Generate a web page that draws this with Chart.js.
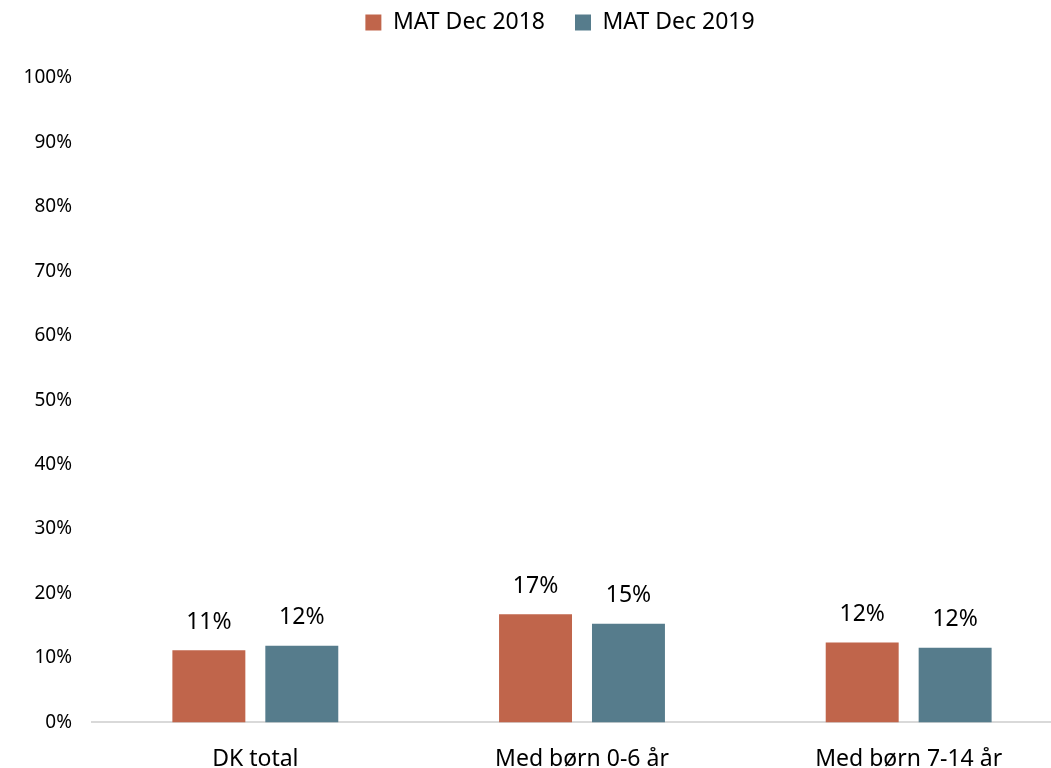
<!DOCTYPE html>
<html>
<head>
<meta charset="utf-8">
<script src="https://cdn.jsdelivr.net/npm/chart.js@4"></script>
<style>
html,body{margin:0;padding:0;overflow:hidden;background:#fff;width:1051px;height:768px;}
#wrap{width:1112px;height:796px;position:relative;}
</style>
</head>
<body>
<div id="wrap"><canvas id="c"></canvas></div>
<script>
const categories = ["DK total", "Med børn 0-6 år", "Med børn 7-14 år"];
const seriesNames = ["MAT Dec 2018", "MAT Dec 2019"];
const mat2018 = [11.2, 16.8, 12.4];
const mat2019 = [11.9, 15.3, 11.6];
const yTicks = [0,10,20,30,40,50,60,70,80,90,100];
const colors = ["#C0654B", "#567C8C"];
const FONT = "'Noto Sans', 'Open Sans', sans-serif";

const legendSpace = {
  id: 'legendSpace',
  beforeInit(chart) {
    const lg = chart.legend;
    if (!lg) return;
    const f = lg.fit;
    lg.fit = function() { f.call(this); this.height += 34; };
    const d = lg.draw;
    lg.draw = function() {
      const ctx = this.ctx;
      ctx.save();
      ctx.translate(24, 0);
      d.call(this);
      ctx.restore();
    };
  }
};

const dataLabels = {
  id: 'dataLabels',
  afterDatasetsDraw(chart) {
    const ctx = chart.ctx;
    ctx.save();
    ctx.font = "23px " + FONT;
    ctx.fillStyle = "#000";
    ctx.textAlign = "center";
    ctx.textBaseline = "middle";
    chart.data.datasets.forEach((ds, i) => {
      const meta = chart.getDatasetMeta(i);
      meta.data.forEach((bar, j) => {
        ctx.fillText(Math.round(ds.data[j]) + "%", bar.x, bar.y - 28);
      });
    });
    ctx.restore();
  }
};

new Chart(document.getElementById('c'), {
  type: 'bar',
  data: {
    labels: categories,
    datasets: [
      {label: seriesNames[0], data: mat2018, backgroundColor: colors[0], borderWidth: 0, categoryPercentage: 0.569, barPercentage: 0.785},
      {label: seriesNames[1], data: mat2019, backgroundColor: colors[1], borderWidth: 0, categoryPercentage: 0.569, barPercentage: 0.785}
    ]
  },
  options: {
    responsive: true,
    maintainAspectRatio: false,
    animation: false,
    layout: {padding: {top: -19, right: 40, bottom: 0, left: 0}},
    plugins: {
      legend: {
        position: 'top',
        labels: {
          font: {family: FONT, size: 23},
          color: "#000",
          boxWidth: 16, boxHeight: 16,
          padding: 30
        }
      },
      tooltip: {enabled: false}
    },
    scales: {
      x: {
        grid: {display: false, drawTicks: false},
        border: {color: "#D9D9D9", width: 2},
        ticks: {font: {family: FONT, size: 23}, color: "#000", padding: 23}
      },
      y: {
        min: 0, max: 100,
        afterFit(scale) { scale.width = 92; },
        afterBuildTicks(scale) { scale.ticks = yTicks.map(v => ({value: v})); },
        grid: {display: false, drawTicks: false},
        border: {display: false},
        ticks: {font: {family: FONT, size: 19}, color: "#000", padding: 20, callback: v => v + "%"}
      }
    }
  },
  plugins: [legendSpace, dataLabels]
});
</script>
</body>
</html>
